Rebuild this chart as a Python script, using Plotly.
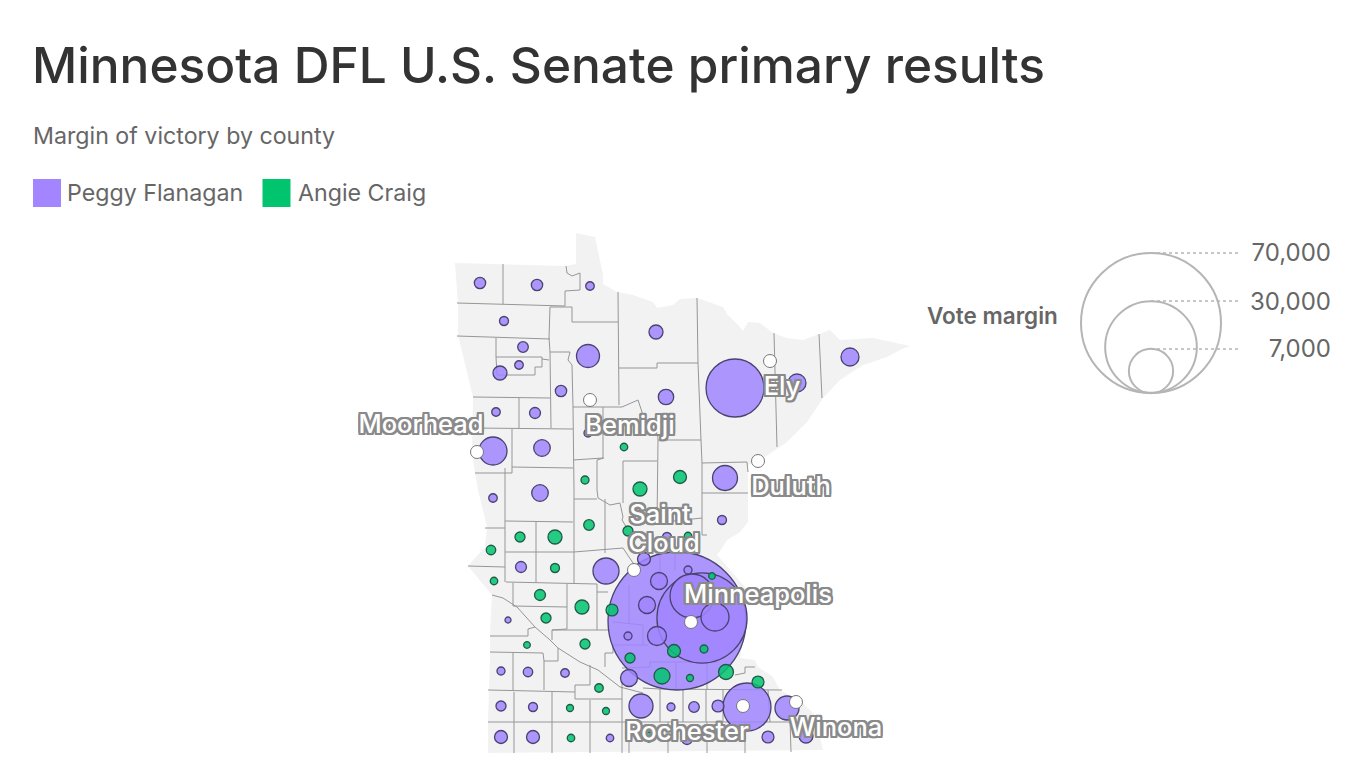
import plotly.graph_objects as go

FONT = "Inter"

# state outline, in map units (1 unit = 1 px on the page)
state_x = [455, 503, 566, 576, 576, 595, 598, 603, 603, 617, 633, 653, 657, 673, 680, 697, 723, 727, 738, 743, 748, 760, 773, 787, 803, 818, 830, 840, 873, 910, 900, 887, 863, 840, 823, 807, 787, 765, 748, 748, 748, 740, 727, 722, 717, 745, 746, 740, 755, 758, 773, 780, 803, 817, 820, 823, 488, 488, 490, 490, 492, 468, 485, 487, 478, 475, 472, 473, 458, 458]
state_y = [263, 264, 266, 264, 233, 237, 252, 275, 284, 292, 295, 302, 308, 305, 299, 298, 307, 314, 325, 331, 322, 323, 333, 338, 340, 334, 330, 340, 338, 346, 350, 357, 365, 380, 398, 422, 442, 457, 465, 490, 522, 532, 540, 548, 555, 587, 622, 658, 660, 667, 677, 690, 703, 717, 737, 750, 753, 720, 657, 633, 595, 566, 547, 527, 490, 473, 452, 397, 335, 305]

# county borders
county_lines = [
    [(503, 264), (503, 304)],
    [(457, 303), (565, 306)],
    [(565, 306), (565, 291), (580, 290), (580, 273), (572, 276), (567, 273), (566, 266)],
    [(550, 307), (572, 307), (572, 322), (618, 322)],
    [(618, 292), (619, 405)],
    [(550, 307), (549, 338), (550, 352), (551, 428)],
    [(457, 336), (550, 339)],
    [(496, 338), (496, 357), (497, 375), (535, 375), (535, 367), (542, 367), (542, 359), (549, 360)],
    [(496, 357), (542, 357), (542, 359)],
    [(550, 352), (570, 352), (568, 360), (572, 365), (573, 407), (574, 490), (574, 583)],
    [(473, 397), (550, 398)],
    [(519, 398), (519, 428)],
    [(473, 428), (573, 429)],
    [(512, 429), (512, 473), (475, 473)],
    [(512, 467), (573, 468)],
    [(573, 407), (603, 407), (603, 458), (573, 460)],
    [(603, 407), (622, 407), (638, 400), (642, 412), (642, 418), (657, 425), (658, 440)],
    [(619, 368), (657, 368), (657, 363), (698, 363)],
    [(697, 298), (698, 363), (701, 440), (702, 463), (702, 535), (707, 535)],
    [(658, 440), (701, 440)],
    [(658, 440), (657, 523)],
    [(597, 460), (604, 458)],
    [(597, 460), (597, 490), (598, 498), (610, 505), (620, 503), (623, 517), (622, 520), (627, 528)],
    [(623, 461), (657, 461)],
    [(623, 461), (623, 503)],
    [(702, 463), (747, 462), (748, 472)],
    [(774, 333), (777, 447)],
    [(819, 334), (822, 398)],
    [(505, 468), (505, 582)],
    [(702, 493), (748, 493)],
    [(505, 521), (573, 522)],
    [(485, 528), (505, 528)],
    [(505, 552), (574, 552), (623, 548), (633, 563), (640, 570)],
    [(536, 522), (536, 583)],
    [(468, 566), (505, 567)],
    [(506, 582), (597, 584)],
    [(513, 583), (513, 606)],
    [(513, 606), (567, 607)],
    [(567, 584), (567, 629)],
    [(597, 584), (597, 630)],
    [(567, 629), (552, 630), (552, 640)],
    [(552, 630), (608, 630)],
    [(492, 595), (503, 598), (517, 607), (535, 627), (550, 640), (558, 648), (580, 662), (598, 670), (620, 687), (643, 693)],
    [(490, 636), (528, 636), (528, 629), (535, 627)],
    [(490, 652), (543, 653)],
    [(513, 653), (513, 690)],
    [(543, 653), (544, 661), (558, 661), (558, 648)],
    [(544, 661), (544, 690)],
    [(488, 690), (575, 692)],
    [(590, 665), (590, 685), (575, 685), (575, 699), (622, 699)],
    [(622, 682), (622, 753)],
    [(514, 692), (514, 753)],
    [(552, 692), (552, 753)],
    [(590, 700), (590, 753)],
    [(488, 722), (790, 722)],
    [(643, 688), (660, 689), (782, 690)],
    [(629, 723), (629, 753)],
    [(660, 689), (660, 722)],
    [(683, 690), (683, 722)],
    [(706, 690), (706, 722)],
    [(723, 690), (723, 722)],
    [(768, 690), (770, 722)],
    [(790, 720), (791, 752)],
    [(745, 722), (745, 753)],
    [(668, 722), (668, 753)],
    [(707, 722), (707, 753)],
    [(735, 675), (745, 673), (745, 667), (755, 667)],
    [(574, 499), (597, 499)],
    [(605, 499), (605, 553)],
    [(655, 523), (702, 518)],
    [(597, 592), (608, 592)],
    [(629, 585), (629, 623)],
    [(613, 622), (643, 625), (643, 645)],
    [(613, 645), (613, 653), (605, 653), (605, 667)],
    [(613, 645), (648, 645)],
    [(650, 661), (650, 667), (622, 668)],
    [(650, 662), (717, 662)],
    [(676, 663), (676, 690)],
    [(707, 663), (707, 690)],
    [(675, 553), (675, 570)],
    [(660, 555), (660, 580)],
]

# Peggy Flanagan counties: position and vote margin, biggest drawn first
flanagan_x = [677, 702, 692, 747, 735, 715, 493, 606, 725, 641, 787, 588, 657, 797, 850, 659, 647, 629, 666, 542, 540, 656, 644, 500, 501, 533, 806, 768, 561, 718, 480, 537, 535, 523, 694, 528, 521, 501, 533, 687, 590, 504, 519, 496, 588, 493, 722, 667, 688, 565, 501, 671, 628, 725, 610, 508]
flanagan_y = [621, 618, 596, 707, 388, 617, 451, 571, 478, 706, 708, 356, 636, 383, 357, 581, 605, 678, 397, 448, 493, 332, 559, 373, 737, 737, 736, 737, 391, 706, 283, 285, 413, 347, 707, 672, 567, 706, 707, 739, 286, 321, 365, 412, 433, 498, 520, 537, 570, 673, 671, 707, 636, 737, 738, 620]
flanagan_margin = [68000, 29000, 6900, 8230, 12000, 2800, 2800, 2420, 2230, 2060, 2060, 1890, 1290, 1160, 1160, 1030, 1030, 1030, 850, 980, 980, 700, 600, 700, 600, 600, 700, 510, 460, 510, 460, 460, 430, 400, 400, 320, 430, 360, 290, 430, 260, 290, 260, 260, 230, 260, 290, 290, 230, 260, 230, 230, 230, 230, 200, 130]

# Angie Craig counties
craig_x = [640, 680, 555, 582, 726, 662, 612, 674, 758, 540, 589, 628, 520, 546, 585, 630, 649, 491, 555, 599, 585, 624, 688, 494, 704, 690, 570, 606, 571, 712, 527]
craig_y = [489, 477, 537, 607, 672, 676, 610, 651, 682, 595, 525, 531, 537, 618, 644, 658, 737, 550, 568, 688, 480, 447, 536, 581, 649, 678, 708, 711, 738, 576, 645]
craig_margin = [700, 600, 700, 700, 800, 910, 510, 600, 510, 430, 400, 360, 360, 360, 360, 360, 360, 320, 290, 260, 230, 200, 200, 200, 230, 175, 175, 175, 200, 156, 156]

# labelled cities
city_x = [770, 590, 477, 758, 634, 691, 743, 796]
city_y = [361, 400, 452, 461, 570, 622, 706, 702]
label_names = ["Ely", "Bemidji", "Moorhead", "Duluth", "Saint", "Cloud", "Minneapolis", "Rochester", "Winona"]
label_x = [782, 630, 421, 791, 660, 664, 758, 687, 836]
label_y = [389, 428, 427, 489, 517, 546, 597, 734, 730]

# size key
key_values = [70000, 30000, 7000]
key_labels = ["70,000", "30,000", "7,000"]
key_x = [1151, 1151, 1151]
key_y = [323, 347, 371]
key_top = [253, 301, 349]
key_label_y = [255, 304, 351]

# r = 70 px for a 70,000 vote margin
SIZEREF = 70000 / (2 * 70 ** 2)

county_x, county_y = [], []
for line in county_lines:
    county_x += [p[0] for p in line] + [None]
    county_y += [p[1] for p in line] + [None]

fig = go.Figure()
fig.add_trace(go.Scatter(x=state_x, y=state_y, mode="lines", fill="toself", fillcolor="#f2f2f2", line=dict(width=0), hoverinfo="skip"))
fig.add_trace(go.Scatter(x=county_x, y=county_y, mode="lines", line=dict(color="#969696", width=1), hoverinfo="skip"))

fig.add_trace(go.Scatter(x=flanagan_x, y=flanagan_y, mode="markers", name="Peggy Flanagan", marker=dict(
    size=flanagan_margin, sizemode="area", sizeref=SIZEREF, color="rgba(160,133,255,0.85)", opacity=1,
    line=dict(color="#4a4270", width=1.3))))
fig.add_trace(go.Scatter(x=craig_x, y=craig_y, mode="markers", name="Angie Craig", marker=dict(
    size=craig_margin, sizemode="area", sizeref=SIZEREF, color="rgba(0,196,110,0.85)", opacity=1,
    line=dict(color="#1f5b47", width=1.3))))

fig.add_trace(go.Scatter(x=city_x, y=city_y, mode="markers", marker=dict(size=13, color="white", opacity=1, line=dict(color="#777777", width=1)), hoverinfo="skip"))
halo = ", ".join(f"{dx}px {dy}px 0.5px #8a8a8a" for dx in (-2, -1, 0, 1, 2) for dy in (-2, -1, 0, 1, 2) if abs(dx) + abs(dy) > 0)
fig.add_trace(go.Scatter(x=label_x, y=label_y, mode="text", text=label_names, textposition="middle center",
                         textfont=dict(family=FONT, size=25.5, color="white", weight=500, shadow=halo), hoverinfo="skip"))

# size key
for v, top in zip(key_values, key_top):
    fig.add_trace(go.Scatter(x=[1151, 1241], y=[top, top], mode="lines", line=dict(color="#b5b5b5", width=1.5, dash="3px,3px"), hoverinfo="skip"))
fig.add_trace(go.Scatter(x=key_x, y=key_y, mode="markers", marker=dict(
    size=key_values, sizemode="area", sizeref=SIZEREF, color="rgba(0,0,0,0)", opacity=1,
    line=dict(color="#b5b5b5", width=2)), hoverinfo="skip"))
fig.add_trace(go.Scatter(x=[1331, 1331, 1331], y=key_label_y, mode="text", text=key_labels, textposition="middle left",
                         textfont=dict(family=FONT, size=24, color="#666666"), hoverinfo="skip"))

# colour key squares
fig.add_trace(go.Scatter(x=[47, 276.5], y=[193, 193], mode="markers", marker=dict(symbol="square", size=28, color=["#a285ff", "#00c46e"], opacity=1), hoverinfo="skip"))

texts = [
    ("Margin of victory by county", 31, 136, 23.2, "#666666", 400, "left"),
    ("Peggy Flanagan", 65, 193, 23.2, "#666666", 400, "left"),
    ("Angie Craig", 296, 193, 23.2, "#666666", 400, "left"),
    ("Vote margin", 1060, 315, 22.5, "#666666", 600, "right"),
]
annotations = [dict(text=t, x=x, y=y, xref="x", yref="y", showarrow=False, xanchor=a, yanchor="middle",
                    font=dict(family=FONT, size=s, color=c, weight=w)) for t, x, y, s, c, w, a in texts]

fig.update_layout(
    width=1366, height=768, margin=dict(l=0, r=0, t=0, b=0),
    paper_bgcolor="white", plot_bgcolor="white", showlegend=False, hovermode=False,
    title=dict(text="Minnesota DFL U.S. Senate primary results", x=32 / 1366, xanchor="left", xref="paper",
               y=1 - 66 / 768, yanchor="middle", yref="paper", font=dict(family=FONT, size=49.6, color="#333333", weight=500)),
    annotations=annotations,
    xaxis=dict(range=[0, 1366], visible=False, fixedrange=True),
    yaxis=dict(range=[768, 0], visible=False, fixedrange=True),
)
for tr in fig.data:
    tr.cliponaxis = False

fig.write_html("out.html", post_script="document.body.style.margin='0';", config=dict(displayModeBar=False))
